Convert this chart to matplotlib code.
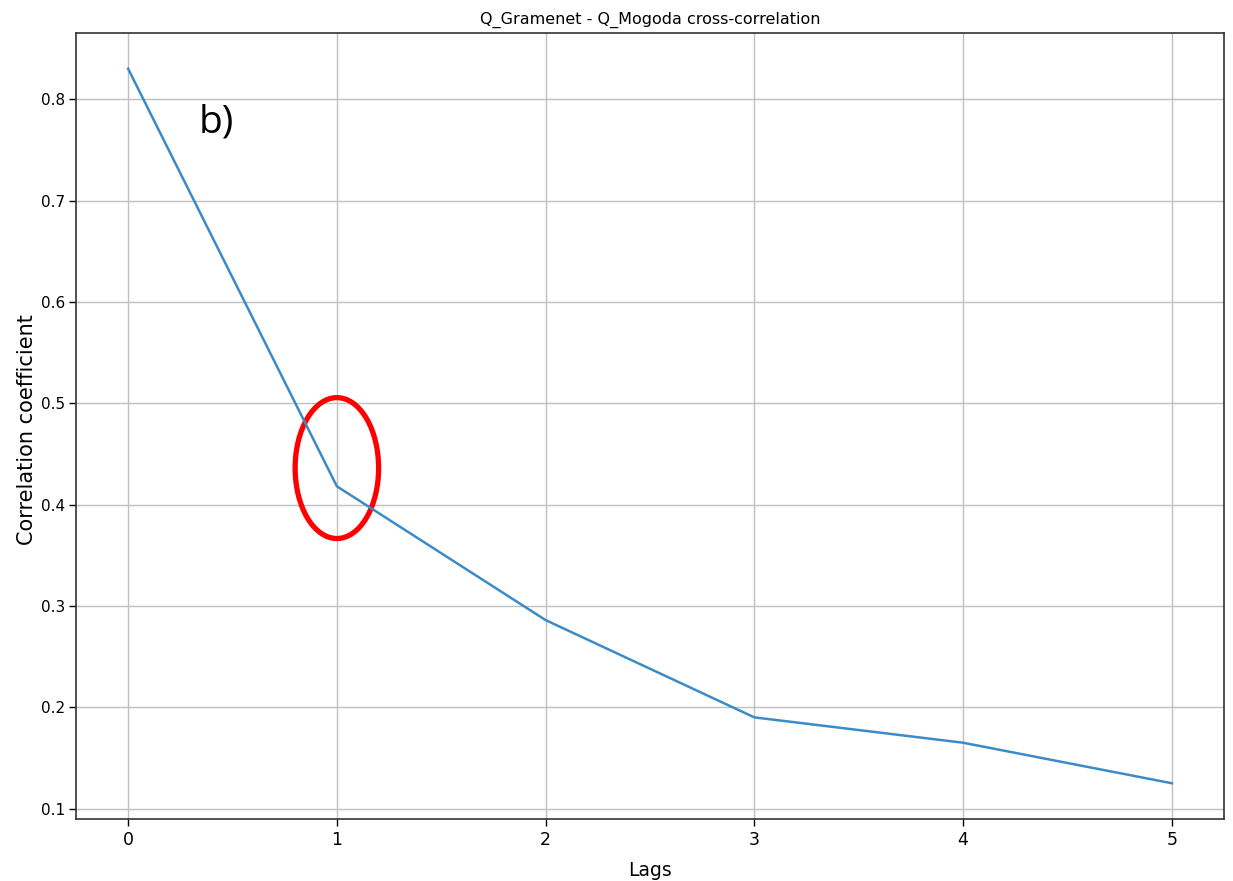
import matplotlib
matplotlib.use("Agg")
import matplotlib.pyplot as plt
from matplotlib.patches import Ellipse

# Data
lags = [0, 1, 2, 3, 4, 5]
corr = [0.830, 0.418, 0.286, 0.190, 0.165, 0.125]
title = "Q_Gramenet - Q_Mogoda cross-correlation"

fig = plt.figure(figsize=(12.33, 8.81), dpi=100)
ax = fig.add_axes([0.0616, 0.0704, 0.9311, 0.8921])

ax.plot(lags, corr, color="#3b8bc7", lw=1.8)
ax.grid(True, color="#c0c0c0", lw=1.0)
ax.set_axisbelow(True)

ax.set_xticks(lags)
ax.set_yticks([0.1, 0.2, 0.3, 0.4, 0.5, 0.6, 0.7, 0.8])
ax.tick_params(axis="y", length=5, width=1, labelsize=11, pad=3)
ax.tick_params(axis="x", length=5, width=1, labelsize=12.5, pad=4)

ax.set_title(title, fontsize=11.5, pad=7)
ax.set_xlabel("Lags", fontsize=13.5, labelpad=8)
ax.set_ylabel("Correlation coefficient", fontsize=15)
ax.yaxis.set_label_coords(-0.034, 0.496)

for sp in ax.spines.values():
    sp.set_color("#333333")
    sp.set_linewidth(1.2)

# red ellipse highlighting lag 1
ax.add_patch(Ellipse((1.0, 0.436), 0.40, 0.139, fill=False, edgecolor="red", lw=3.8))
ax.text(0.34, 0.767, "b)", fontsize=28, family="Open Sans")

fig.savefig("out.png", dpi=100)
